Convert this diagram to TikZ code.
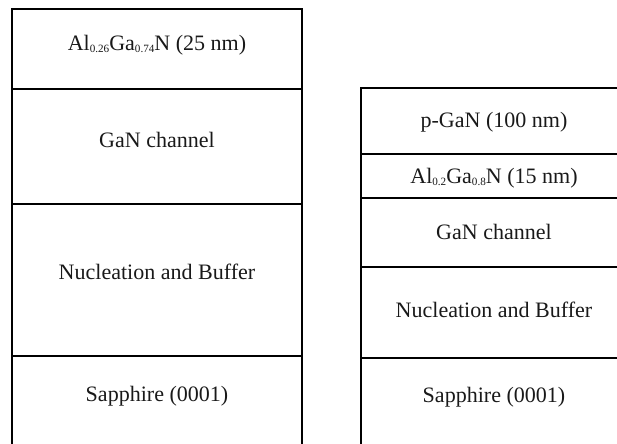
\documentclass[tikz,border=0pt]{standalone}
\usepackage{fontspec}
\setmainfont{Liberation Serif}
\usepackage{tikz}
\usetikzlibrary{positioning}
\definecolor{layerink}{RGB}{25,25,25}
\tikzstyle{layerline} = [line width=1.6pt, color=black]
\tikzstyle{layertext} = [font=\fontsize{18.8}{22}\selectfont, text=layerink, inner sep=0pt]
\newcommand{\molfrac}[1]{\raisebox{-0.2ex}{\fontsize{9.5}{10}\selectfont #1}}

\begin{document}
\begin{tikzpicture}[x=0.03cm, y=0.03cm]
\path[use as bounding box, clip] (0,0) rectangle (617,443);

% Left stack: AlGaN/GaN on sapphire
\draw[layerline] (12,-10) -- (12,434) -- (302,434) -- (302,-10);
\foreach \y in {354,239,87}
  \draw[layerline] (12,\y) -- (302,\y);

\node[layertext] (lbarrier) at (157,398) {Al\molfrac{0.26}Ga\molfrac{0.74}N (25 nm)};
\node[layertext] (lchannel) at (157,303) {GaN channel};
\node[layertext] (lbuffer) at (157,171) {Nucleation and Buffer};
\node[layertext] (lsubstrate) at (157,47) {Sapphire (0001)};

% Right stack: p-GaN gate on thin barrier
\draw[layerline] (361,-10) -- (361,355) -- (640,355);
\foreach \y in {289,245,176,85}
  \draw[layerline] (361,\y) -- (640,\y);

\node[layertext] (rcap) at (494,321) {p-GaN (100 nm)};
\node[layertext] (rbarrier) at (494,265) {Al\molfrac{0.2}Ga\molfrac{0.8}N (15 nm)};
\node[layertext] (rchannel) at (494,211) {GaN channel};
\node[layertext] (rbuffer) at (494,133) {Nucleation and Buffer};
\node[layertext] (rsubstrate) at (494,46) {Sapphire (0001)};
\end{tikzpicture}
\end{document}
